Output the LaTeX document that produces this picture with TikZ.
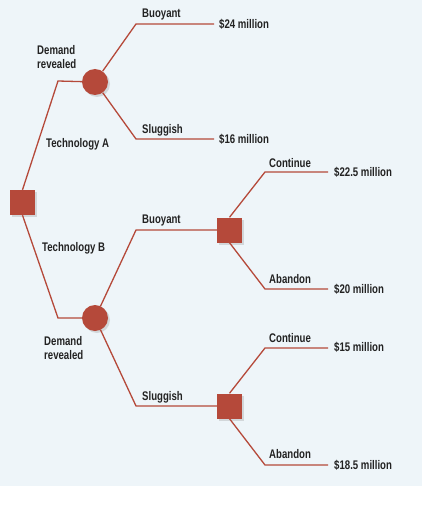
\documentclass[tikz,border=0pt]{standalone}
\usepackage{fontspec}
\setmainfont{Liberation Sans}[FakeStretch=0.77]
\usetikzlibrary{shadows}
\definecolor{nodered}{HTML}{B5493A}
\definecolor{bgblue}{HTML}{EEF5F9}
\definecolor{txt}{HTML}{222222}
\tikzset{branch/.style={nodered,line width=1.3pt}}
\tikzset{decision/.style={rectangle,fill=nodered,minimum size=25pt,inner sep=0pt,
    drop shadow={opacity=0.25,shadow xshift=2pt,shadow yshift=-2pt}}}
\tikzset{chance/.style={circle,fill=nodered,minimum size=26pt,inner sep=0pt,
    drop shadow={opacity=0.25,shadow xshift=2pt,shadow yshift=-2pt}}}
\tikzset{lbl/.style={text=txt,font=\fontsize{12.5}{13.5}\selectfont\bfseries,anchor=west,inner sep=0pt,align=left}}

\begin{document}
\begin{tikzpicture}[x=1pt,y=-1pt]
      \useasboundingbox (0,0) rectangle (422,513);
      \fill[bgblue] (0,0) rectangle (422,486);
      % kinks
      \coordinate (ka) at (58,81);
      \coordinate (kb) at (58,318);
      \coordinate (ab) at (136,24);
      \coordinate (as) at (136,139);
      \coordinate (abe) at (214,24);
      \coordinate (ase) at (214,139);
      \coordinate (bb) at (136,230);
      \coordinate (bs) at (136,406);
      \coordinate (bbc) at (265,172);
      \coordinate (bba) at (265,289);
      \coordinate (bsc) at (265,348);
      \coordinate (bsa) at (265,465);
      \coordinate (bbce) at (328,172);
      \coordinate (bbae) at (328,289);
      \coordinate (bsce) at (328,348);
      \coordinate (bsae) at (328,465);
      % nodes
      \node[decision] (root) at (22.5,202.5) {};
      \node[chance] (ca) at (95,82) {};
      \node[chance] (cb) at (95,318) {};
      \node[decision] (db) at (229.5,230) {};
      \node[decision] (ds) at (229.5,406) {};
      % branches
      \draw[branch] (root.north) -- (ka) -- (ca);
      \draw[branch] (root.south) -- (kb) -- (cb);
      \draw[branch] (ca) -- (ab) -- (abe);
      \draw[branch] (ca) -- (as) -- (ase);
      \draw[branch] (cb) -- (bb) -- (db);
      \draw[branch] (cb) -- (bs) -- (ds);
      \draw[branch] (db.north) -- (bbc) -- (bbce);
      \draw[branch] (db.south) -- (bba) -- (bbae);
      \draw[branch] (ds.north) -- (bsc) -- (bsce);
      \draw[branch] (ds.south) -- (bsa) -- (bsae);
      % labels
      \node[lbl] (ta) at (46,144) {Technology A};
      \node[lbl] (tb) at (42,248) {Technology B};
      \node[lbl] (dra) at (37,57) {Demand\\revealed};
      \node[lbl] (drb) at (44,348) {Demand\\revealed};
      \node[lbl] (lab) at (142,14) {Buoyant};
      \node[lbl] (las) at (142,130) {Sluggish};
      \node[lbl] (lbb) at (142,220) {Buoyant};
      \node[lbl] (lbs) at (142,397) {Sluggish};
      \node[lbl] (lbbc) at (269,163) {Continue};
      \node[lbl] (lbba) at (269,279) {Abandon};
      \node[lbl] (lbsc) at (269,338) {Continue};
      \node[lbl] (lbsa) at (269,454) {Abandon};
      \node[lbl] (v1) at (219,24) {\$24 million};
      \node[lbl] (v2) at (219,139) {\$16 million};
      \node[lbl] (v3) at (334,172) {\$22.5 million};
      \node[lbl] (v4) at (334,289) {\$20 million};
      \node[lbl] (v5) at (334,347) {\$15 million};
      \node[lbl] (v6) at (334,465) {\$18.5 million};
    \end{tikzpicture}
\end{document}
